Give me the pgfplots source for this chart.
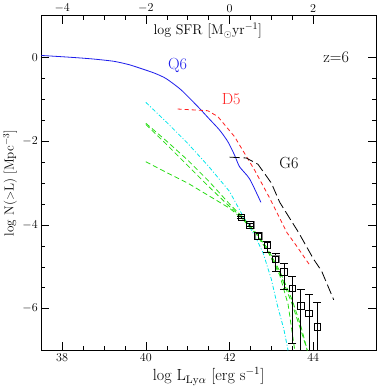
\documentclass[border=0pt]{standalone}
\usepackage{pgfplots}
\pgfplotsset{compat=1.18}
\definecolor{qblue}{RGB}{30,30,235}
\definecolor{dred}{RGB}{255,30,30}
\definecolor{ccyan}{RGB}{0,230,235}
\definecolor{ggreen}{RGB}{40,220,20}
\definecolor{pgray}{RGB}{130,130,130}
\begin{document}
\begin{tikzpicture}
\begin{axis}[
  width=332pt, height=332pt, scale only axis,
  xmin=37.5, xmax=45.5, ymin=-7, ymax=1,
  xtick={38,40,42,44}, ytick={-6,-4,-2,0},
  minor x tick num=3, minor y tick num=3,
  tick align=inside, major tick length=8pt, minor tick length=4pt,
  every tick/.style={black, line width=0.5pt},
  axis line style={line width=0.6pt},
  tick label style={font=\fontsize{13}{13}\selectfont},
  xlabel={log L$_{\mathrm{Ly}\alpha}$ [erg s$^{-1}$]},
  ylabel={log N($>$L) [Mpc$^{-3}$]},
  xlabel style={font=\fontsize{16}{16}\selectfont, at={(axis description cs:0.5,-0.078)}, anchor=center},
  ylabel style={font=\fontsize{13}{13}\selectfont, at={(axis description cs:-0.093,0.5)}, anchor=center},
  clip=true,
]
% Q6
\addplot[qblue, line width=0.8pt, smooth, tension=0.4] coordinates {
(37.5,0.05)(38.0,0.02)(38.44,-0.01)(38.8,-0.04)(39.24,-0.09)(39.6,-0.17)(39.88,-0.26)(40.2,-0.37)(40.48,-0.5)(40.84,-0.77)(41.24,-1.17)(41.5,-1.45)(41.76,-1.73)(41.96,-2.01)(42.12,-2.33)(42.24,-2.61)(42.48,-2.9)(42.75,-3.46)};
% D5
\addplot[dred, line width=0.8pt, dash pattern=on 4pt off 3pt] coordinates {
(40.76,-1.23)(41.48,-1.27)(41.72,-1.41)(42.12,-1.89)(42.36,-2.29)(42.6,-2.69)(42.95,-3.34)(43.37,-4.18)(43.6,-4.5)(43.93,-4.98)};
% G6
\addplot[black, line width=0.8pt, dash pattern=on 10pt off 4pt] coordinates {
(42.0,-2.38)(42.4,-2.4)(42.68,-2.55)(43.0,-3.0)(43.2,-3.46)(43.65,-4.18)(44.01,-4.82)(44.2,-5.1)(44.49,-5.79)};
% cyan
\addplot[ccyan, line width=0.8pt, dash pattern=on 4pt off 2pt on 1pt off 2pt] coordinates {
(40,-1.07)(40.5,-1.55)(41,-2.05)(41.5,-2.6)(42,-3.2)(42.3,-3.75)(42.6,-4.25)(42.8,-4.66)(43.0,-5.3)(43.13,-5.87)(43.3,-6.5)(43.4,-7)};
% green
\addplot[ggreen, line width=0.8pt, dash pattern=on 5pt off 3pt] coordinates {
(40,-1.57)(40.5,-2.0)(41,-2.45)(41.5,-2.95)(42,-3.5)(42.3,-3.8)(42.6,-4.15)(42.9,-4.6)(43.2,-5.2)(43.4,-5.9)(43.56,-7)};
\addplot[ggreen, line width=0.8pt, dash pattern=on 5pt off 3pt] coordinates {
(40,-1.6)(40.5,-2.08)(41,-2.58)(41.5,-3.08)(42,-3.56)(42.3,-3.82)(42.6,-4.15)(42.9,-4.55)(43.2,-5.1)(43.5,-5.8)(43.7,-6.4)(43.86,-7)};
\addplot[ggreen, line width=0.8pt, dash pattern=on 5pt off 3pt] coordinates {
(40,-2.49)(40.5,-2.75)(41,-3.0)(41.5,-3.3)(42,-3.6)(42.3,-3.85)(42.6,-4.18)(42.9,-4.6)(43.2,-5.15)(43.5,-5.9)(43.7,-6.5)(43.86,-7)};
% gray data
\addplot[pgray, only marks, mark=square, mark size=3.5pt, line width=0.9pt,
  error bars/.cd, y dir=both, y explicit, error mark options={rotate=90, mark size=4pt, pgray}, error bar style={pgray, line width=0.8pt}]
coordinates {
(42.5,-4.0) += (0,0.04) -= (0,0.04)
(42.7,-4.26) += (0,0.07) -= (0,0.07)
(43.1,-4.82) += (0,0.14) -= (0,0.28)
(43.7,-5.93) += (0,0.40) -= (0,2.0)
};
% black data
\addplot[black, only marks, mark=square, mark size=3.2pt, line width=0.6pt,
  error bars/.cd, y dir=both, y explicit, error mark options={rotate=90, mark size=4pt, black}, error bar style={black, line width=0.6pt}]
coordinates {
(42.28,-3.82) += (0,0.03) -= (0,0.03)
(42.48,-4.0) += (0,0.04) -= (0,0.04)
(42.68,-4.26) += (0,0.07) -= (0,0.07)
(42.9,-4.49) += (0,0.11) -= (0,0.17)
(43.1,-4.82) += (0,0.14) -= (0,0.28)
(43.3,-5.12) += (0,0.20) -= (0,0.41)
(43.5,-5.51) += (0,0.29) -= (0,1.32)
(43.7,-5.93) += (0,0.40) -= (0,2.0)
(43.9,-6.11) += (0,0.46) -= (0,2.0)
(44.1,-6.43) += (0,0.58) -= (0,2.0)
};
\node[qblue, font=\fontsize{16}{16}\selectfont] at (axis cs:40.76,-0.2) {Q6};
\node[dred, font=\fontsize{16}{16}\selectfont] at (axis cs:42.04,-1.0) {D5};
\node[black, font=\fontsize{16}{16}\selectfont] at (axis cs:43.42,-2.53) {G6};
\node[black, font=\fontsize{16}{16}\selectfont] at (axis cs:44.55,0.0) {z=6};
\node[black, font=\fontsize{14}{14}\selectfont] at (axis cs:41.48,0.64) {log SFR [M$_\odot$yr$^{-1}$]};
\end{axis}
\begin{axis}[
  width=332pt, height=332pt, scale only axis,
  xmin=-4.5, xmax=3.5, ymin=-7, ymax=1,
  axis x line*=top, hide y axis,
  xtick={-4,-2,0,2},
  major tick length=0pt, minor tick length=0pt,
  tick label style={font=\fontsize{13}{13}\selectfont},
  axis line style={draw=none},
]
\end{axis}
\end{tikzpicture}
\end{document}
